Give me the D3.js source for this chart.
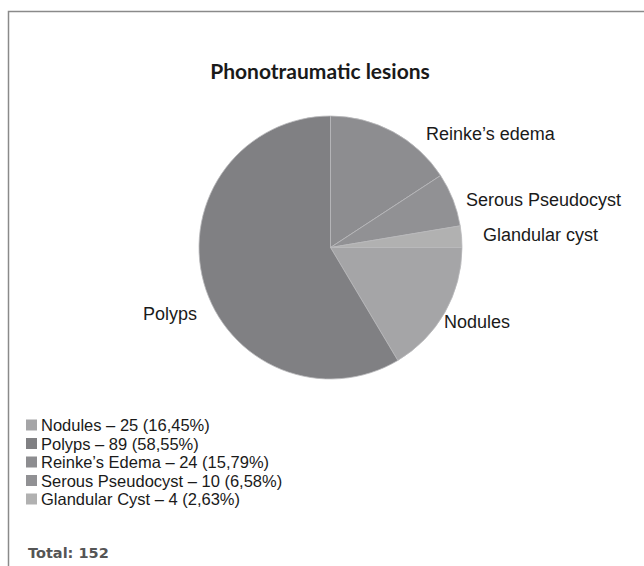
<!DOCTYPE html>
<html lang="en">
<head>
    <meta charset="UTF-8">
    <script src="https://cdn.jsdelivr.net/npm/d3@7"></script>
    <title>Phonotraumatic lesions</title>
    <style>
        body { margin: 0; background: #fff; }
    </style>
</head>
<body>
<script>
    var lesions = ["Nodules", "Polyps", "Reinke’s Edema", "Serous Pseudocyst", "Glandular Cyst"];
    var sliceLabels = ["Nodules", "Polyps", "Reinke’s edema", "Serous Pseudocyst", "Glandular cyst"];
    var counts = [25, 89, 24, 10, 4];
    var percents = ["16,45%", "58,55%", "15,79%", "6,58%", "2,63%"];
    var colors = ["#a5a5a7", "#808083", "#8d8d90", "#919194", "#b1b1b1"];
    var total = 152;

    var svg = d3.select("body").append("svg")
        .attr("width", 644)
        .attr("height", 566);

    svg.append("rect").attr("width", 644).attr("height", 566).attr("fill", "#fff");

    // frame
    svg.append("path")
        .attr("d", "M8.5,566 V11.5 H644")
        .attr("fill", "none")
        .attr("stroke", "#8a8a8a")
        .attr("stroke-width", 1.5);

    svg.append("text")
        .attr("x", 320)
        .attr("y", 79)
        .attr("text-anchor", "middle")
        .style("font-family", "Lato, 'Open Sans', sans-serif")
        .style("font-weight", "bold")
        .style("font-size", "21px")
        .attr("fill", "#1a1a1a")
        .text("Phonotraumatic lesions");

    var pie = d3.pie()
        .sort(null)
        .startAngle(Math.PI / 2)
        .endAngle(Math.PI / 2 + 2 * Math.PI)
        .value(function(d){ return d; });

    var arc = d3.arc().innerRadius(0).outerRadius(131.5);

    var g = svg.append("g").attr("transform", "translate(330.5,247.5)");
    g.selectAll("path")
        .data(pie(counts))
        .enter()
        .append("path")
        .attr("d", arc)
        .attr("fill", function(d, i){ return colors[i]; })
        .attr("stroke", "#b9b9bb")
        .attr("stroke-width", 0.8);

    // slice labels, placed beside the pie
    var labelPos = [[444, 328], [143, 320], [426, 140], [466, 206], [483, 241]];
    svg.selectAll("text.slice")
        .data(sliceLabels)
        .enter()
        .append("text")
        .attr("class", "slice")
        .attr("x", function(d, i){ return labelPos[i][0]; })
        .attr("y", function(d, i){ return labelPos[i][1]; })
        .style("font-family", "'Liberation Sans', Arial, sans-serif")
        .style("font-size", "18px")
        .attr("fill", "#1a1a1a")
        .text(function(d){ return d; });

    // legend
    var legend = svg.append("g").attr("transform", "translate(26,418)");
    var rows = legend.selectAll("g")
        .data(lesions)
        .enter()
        .append("g")
        .attr("transform", function(d, i){ return "translate(0," + (i * 18.5) + ")"; });

    rows.append("rect")
        .attr("x", 0).attr("y", 1.5)
        .attr("width", 11).attr("height", 11)
        .attr("fill", function(d, i){ return colors[i]; });

    rows.append("text")
        .attr("x", 15)
        .attr("y", 13)
        .style("font-family", "'Liberation Sans', Arial, sans-serif")
        .style("font-size", "16.5px")
        .attr("fill", "#1a1a1a")
        .text(function(d, i){ return d + " – " + counts[i] + " (" + percents[i] + ")"; });

    svg.append("text")
        .attr("x", 28)
        .attr("y", 558)
        .style("font-family", "'DejaVu Sans', Verdana, sans-serif")
        .style("font-size", "14.5px")
        .style("font-weight", "bold")
        .attr("fill", "#555")
        .text("Total: " + total);
</script>
</body>
</html>
